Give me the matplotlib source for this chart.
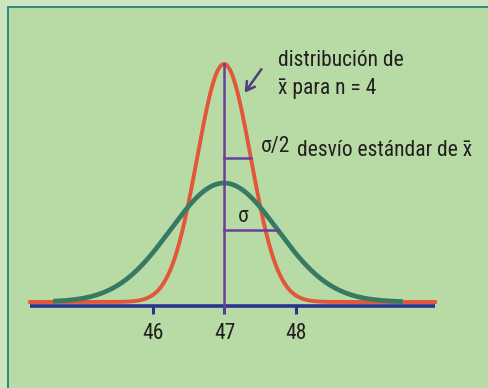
import numpy as np
import matplotlib
matplotlib.use("Agg")
import matplotlib.pyplot as plt
from matplotlib.patches import Rectangle, FancyArrowPatch

# ---- data ----
mean = 47.0
sigma = 0.75            # population standard deviation
n = 4                   # sample size
tick_values = [46, 47, 48]
tick_labels = ["46", "47", "48"]
x_range_pop = (44.61, 49.50)
x_range_mean = (44.29, 49.95)

label_top = ["distribución de", "x\u0304 para n = 4"]
label_sd_mean = "desvío estándar de x\u0304"
label_sigma2 = "σ/2"
label_sigma = "σ"

W, H = 489, 388
fig = plt.figure(figsize=(W / 100, H / 100), dpi=100)
fig.patch.set_facecolor("#cde5c0")

# panel background with border (in a background axes)
bg = fig.add_axes([0, 0, 1, 1], zorder=0)
bg.set_axis_off()
bg.set_xlim(0, W)
bg.set_ylim(H, 0)
bg.add_patch(Rectangle((7.5, 6.5), W, H, facecolor="#b8dba5", edgecolor="#2f8a78", linewidth=1.4))

ax = fig.add_axes([0, 0, 1, 1], zorder=1)
ax.set_facecolor("none")
ax.set_axis_off()
pxu = 71.5
ax.set_xlim(mean - 224 / pxu, mean + 265 / pxu)
sy = 223.7
ax.set_ylim(-86 / sy, 302 / sy)

def pdf(x, s):
    return np.exp(-0.5 * ((x - mean) / s) ** 2) / (s * np.sqrt(2 * np.pi))

sig_m = sigma / np.sqrt(n)

xr = np.linspace(*x_range_mean, 600)
xg = np.linspace(*x_range_pop, 600)

# horizontal axis
ax.plot([x_range_mean[0], x_range_mean[1]], [-4 / sy, -4 / sy], color="#2b3390", lw=2.6,
        solid_capstyle="butt", zorder=2)
for t in tick_values:
    ax.plot([t, t], [-4 / sy, -12 / sy], color="#2b3390", lw=2.2, solid_capstyle="butt", zorder=2)

# curves
ax.plot(xr, pdf(xr, sig_m), color="#e2563a", lw=2.8, zorder=3)
ax.plot(xg, pdf(xg, sigma), color="#377a64", lw=3.4, zorder=4, solid_capstyle="butt")

# vertical line at mean
ax.plot([mean, mean], [-10 / sy, pdf(mean, sig_m)], color="#6b3f9c", lw=1.8, zorder=5)
# sd markers
ax.plot([mean, mean + sig_m], [pdf(mean + sig_m, sig_m)] * 2, color="#6b3f9c", lw=1.8, zorder=5)
ax.plot([mean, mean + sigma], [pdf(mean + sigma, sigma)] * 2, color="#6b3f9c", lw=1.8, zorder=5)

def fc(px, py):
    return (px / W, 1 - py / H)

font = ["Roboto Condensed", "DejaVu Sans"]
tc = "#231f20"
fs = 15.5
kw = dict(family=font, fontsize=fs, color=tc, va="baseline", zorder=7)
fig.text(*fc(278, 66), label_top[0], ha="left", **kw)
fig.text(*fc(278, 94), label_top[1], ha="left", **kw)
fig.text(*fc(261, 152), label_sigma2, ha="left", **kw)
fig.text(*fc(297, 156), label_sd_mean, ha="left", **kw)
fig.text(*fc(238, 222), label_sigma, ha="left", **kw)
for t, lab in zip(tick_values, tick_labels):
    px = 224 + (t - mean) * pxu
    fig.text(*fc(px + 1, 339), lab, ha="center", **kw)

arr = FancyArrowPatch(fc(263, 67), fc(243, 95), transform=fig.transFigure,
                      arrowstyle="->,head_length=6,head_width=3.5", color="#4b3f7e", lw=1.8,
                      mutation_scale=1, zorder=6)
fig.add_artist(arr)

fig.savefig("out.png", dpi=100, facecolor=fig.get_facecolor())
